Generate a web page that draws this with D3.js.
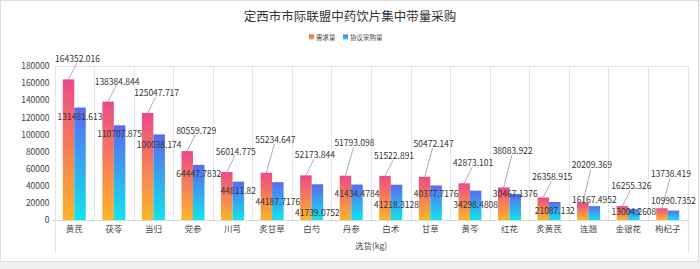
<!DOCTYPE html>
<html>
<head>
<meta charset="utf-8">
<script src="https://cdn.jsdelivr.net/npm/d3@7"></script>
<style>
  html, body { margin: 0; padding: 0; background: #f0f0f0; }
  svg { display: block; font-family: "Noto Sans CJK SC", "Noto Sans", sans-serif; }
</style>
</head>
<body>
<div id="chart"></div>
<script>
// Step 1: data
// =================================
var categories = ["黄芪", "茯苓", "当归", "党参", "川芎", "炙甘草", "白芍", "丹参",
                  "白术", "甘草", "黄芩", "红花", "炙黄芪", "连翘", "金银花", "枸杞子"];

var demand = ["164352.016", "138384.844", "125047.717", "80559.729", "56014.775", "55234.647",
              "52173.844", "51793.098", "51522.891", "50472.147", "42873.101", "38083.922",
              "26358.915", "20209.369", "16255.326", "13738.419"];

var agreed = ["131481.613", "110707.875", "100038.174", "64447.7832", "44811.82", "44187.7176",
              "41739.0752", "41434.4784", "41218.3128", "40377.7176", "34298.4808", "30467.1376",
              "21087.132", "16167.4952", "13004.2608", "10990.7352"];

var seriesNames = ["需求量", "协议采购量"];
var yTicks = [0, 20000, 40000, 60000, 80000, 100000, 120000, 140000, 160000, 180000];

// Step 2: chart setup
// =================================
var svgWidth = 700;
var svgHeight = 269;

var plot = { left: 54.5, right: 687.5, top: 66, bottom: 220, boxBottom: 253 };

var svg = d3.select("#chart")
  .append("svg")
  .attr("width", svgWidth)
  .attr("height", svgHeight);

// white card with light border
svg.append("rect")
  .attr("x", 0.5).attr("y", 0.5)
  .attr("width", svgWidth - 2).attr("height", 261)
  .attr("fill", "#fff")
  .attr("stroke", "#dcdcdc");

// gradients
var defs = svg.append("defs");
var gradients = [
  { id: "gDemand", top: "#ec4a88", bottom: "#fbb52a" },
  { id: "gAgreed", top: "#5b69f0", bottom: "#10e4ec" }
];
gradients.forEach(function(g) {
  var lg = defs.append("linearGradient")
    .attr("id", g.id)
    .attr("x1", 0).attr("y1", 0).attr("x2", 0).attr("y2", 1);
  lg.append("stop").attr("offset", "0%").attr("stop-color", g.top);
  lg.append("stop").attr("offset", "100%").attr("stop-color", g.bottom);
});

// Step 3: scales
// =================================
var x0 = d3.scaleBand()
  .domain(categories)
  .range([plot.left, plot.right])
  .padding(0);

var groupWidth = 23;
var x1 = d3.scaleBand()
  .domain(seriesNames)
  .range([(x0.bandwidth() - groupWidth) / 2, (x0.bandwidth() + groupWidth) / 2])
  .padding(0);

var y = d3.scaleLinear()
  .domain([0, 180000])
  .range([plot.bottom, plot.top]);

// Step 4: grid and axes
// =================================
var grid = svg.append("g").attr("stroke", "#e6e6e6").attr("stroke-width", 1);

// top border of the grid box
grid.append("line")
  .attr("x1", plot.left).attr("x2", plot.right)
  .attr("y1", plot.top + 0.5).attr("y2", plot.top + 0.5);

// category boundaries
var bounds = categories.map(d => x0(d)).concat([x0.range()[1]]);
grid.selectAll("line.split")
  .data(bounds)
  .enter().append("line")
  .attr("class", "split")
  .attr("x1", d => Math.round(d) + 0.5)
  .attr("x2", d => Math.round(d) + 0.5)
  .attr("y1", plot.top)
  .attr("y2", (d, i) => (i === 0 || i === bounds.length - 1) ? plot.boxBottom : plot.bottom + 2);

// x axis line
svg.append("line")
  .attr("x1", plot.left - 2).attr("x2", plot.right)
  .attr("y1", plot.bottom + 0.5).attr("y2", plot.bottom + 0.5)
  .attr("stroke", "#d6d6d6");

// y axis labels (no axis line)
var yAxis = svg.append("g")
  .attr("transform", `translate(${plot.left}, 0)`)
  .call(d3.axisLeft(y).tickValues(yTicks).tickSize(0).tickPadding(5).tickFormat(d3.format("d")));
yAxis.select(".domain").remove();
yAxis.selectAll("text")
  .attr("font-size", 8.5)
  .attr("fill", "#444")
  .attr("font-family", "\"Noto Sans CJK SC\", sans-serif");

// x axis labels
var xAxis = svg.append("g")
  .attr("transform", `translate(0, ${plot.bottom})`)
  .call(d3.axisBottom(x0).tickSize(0).tickPadding(6));
xAxis.select(".domain").remove();
xAxis.selectAll("text")
  .attr("font-size", 8.5)
  .attr("fill", "#444")
  .attr("font-family", "\"Noto Sans CJK SC\", sans-serif");

svg.append("text")
  .attr("x", 355)
  .attr("y", 249)
  .attr("font-size", 8.5)
  .attr("fill", "#444")
  .text("选货(kg)");

// Step 5: bars
// =================================
var rows = categories.map(function(c, i) {
  return { cat: c, values: [
    { name: seriesNames[0], value: +demand[i], text: demand[i], grad: "gDemand" },
    { name: seriesNames[1], value: +agreed[i], text: agreed[i], grad: "gAgreed" }
  ]};
});

var groups = svg.append("g").selectAll("g")
  .data(rows)
  .enter().append("g")
  .attr("transform", d => `translate(${x0(d.cat)}, 0)`);

groups.selectAll("rect")
  .data(d => d.values)
  .enter().append("rect")
  .attr("x", d => x1(d.name))
  .attr("width", x1.bandwidth())
  .attr("y", d => y(d.value))
  .attr("height", d => y(0) - y(d.value))
  .attr("fill", d => `url(#${d.grad})`);

// Step 6: labels
// =================================
var labelH = 10;
function textWidth(t) { return t.length * 4.55; }
function hits(p, lx, ly, w) {
  return Math.abs(p.x - lx) < (p.w + w) / 2 + 1 && Math.abs(p.y - ly) < labelH + 1;
}

// demand labels sit above the bar with a leader line; push up when they collide
var placed = [];
var demandLabels = rows.map(function(r) {
  var v = r.values[0];
  var ax = x0(r.cat) + x1(v.name) + x1.bandwidth() / 2;
  var ay = y(v.value);
  var lx = ax + 9;
  var ly = ay - 21;
  var w = textWidth(v.text);
  var moved = true;
  while (moved) {
    moved = false;
    placed.forEach(function(p) {
      if (hits(p, lx, ly, w)) {
        ly = p.y - labelH - 2;
        moved = true;
      }
    });
  }
  var item = { x: lx, y: ly, w: w, ax: ax, ay: ay, text: v.text };
  placed.push(item);
  return item;
});

// agreed labels sit near the bar top; shift down (or up near the axis) on collision
var placedB = [];
var agreedLabels = rows.map(function(r) {
  var v = r.values[1];
  var lx = x0(r.cat) + x1(v.name) + x1.bandwidth() / 2;
  var ly = Math.min(y(v.value) + 8, plot.bottom - 9);
  var w = textWidth(v.text);
  var prev = placedB[placedB.length - 1];
  if (prev && hits(prev, lx, ly, w)) {
    ly = prev.y + labelH + 1;
    if (ly > plot.bottom - 6) ly = prev.y - labelH - 1;
  }
  var item = { x: lx, y: ly, w: w, text: v.text };
  placedB.push(item);
  return item;
});

var lab = svg.append("g")
  .attr("font-size", 8.5)
  .attr("fill", "#333");

lab.selectAll("line.leader")
  .data(demandLabels)
  .enter().append("line")
  .attr("class", "leader")
  .attr("x1", d => d.ax).attr("y1", d => d.ay)
  .attr("x2", d => d.x - 1).attr("y2", d => d.y + 5)
  .attr("stroke", "#8a8a8a")
  .attr("stroke-width", 0.7);

lab.selectAll("text.demand")
  .data(demandLabels)
  .enter().append("text")
  .attr("class", "demand")
  .attr("x", d => d.x)
  .attr("y", d => d.y)
  .attr("text-anchor", "middle")
  .attr("dominant-baseline", "central")
  .text(d => d.text);

lab.selectAll("text.agreed")
  .data(agreedLabels)
  .enter().append("text")
  .attr("class", "agreed")
  .attr("x", d => d.x)
  .attr("y", d => d.y)
  .attr("text-anchor", "middle")
  .attr("dominant-baseline", "central")
  .text(d => d.text);

// Step 7: title and legend
// =================================
svg.append("text")
  .attr("x", 350)
  .attr("y", 15)
  .attr("text-anchor", "middle")
  .attr("dominant-baseline", "central")
  .attr("font-size", 12.5)
  .attr("fill", "#333")
  .text("定西市市际联盟中药饮片集中带量采购");

var legend = svg.append("g").attr("transform", "translate(309, 37)");
var legendItems = [
  { name: seriesNames[0], grad: "gDemand", x: 0 },
  { name: seriesNames[1], grad: "gAgreed", x: 34 }
];
var li = legend.selectAll("g")
  .data(legendItems)
  .enter().append("g")
  .attr("transform", d => `translate(${d.x}, 0)`);
li.append("rect")
  .attr("x", 0).attr("y", -2.5)
  .attr("width", 5).attr("height", 5)
  .attr("fill", d => `url(#${d.grad})`);
li.append("text")
  .attr("x", 7)
  .attr("y", 0)
  .attr("dominant-baseline", "central")
  .attr("font-size", 6.5)
  .attr("fill", "#444")
  .text(d => d.name);
</script>
</body>
</html>
